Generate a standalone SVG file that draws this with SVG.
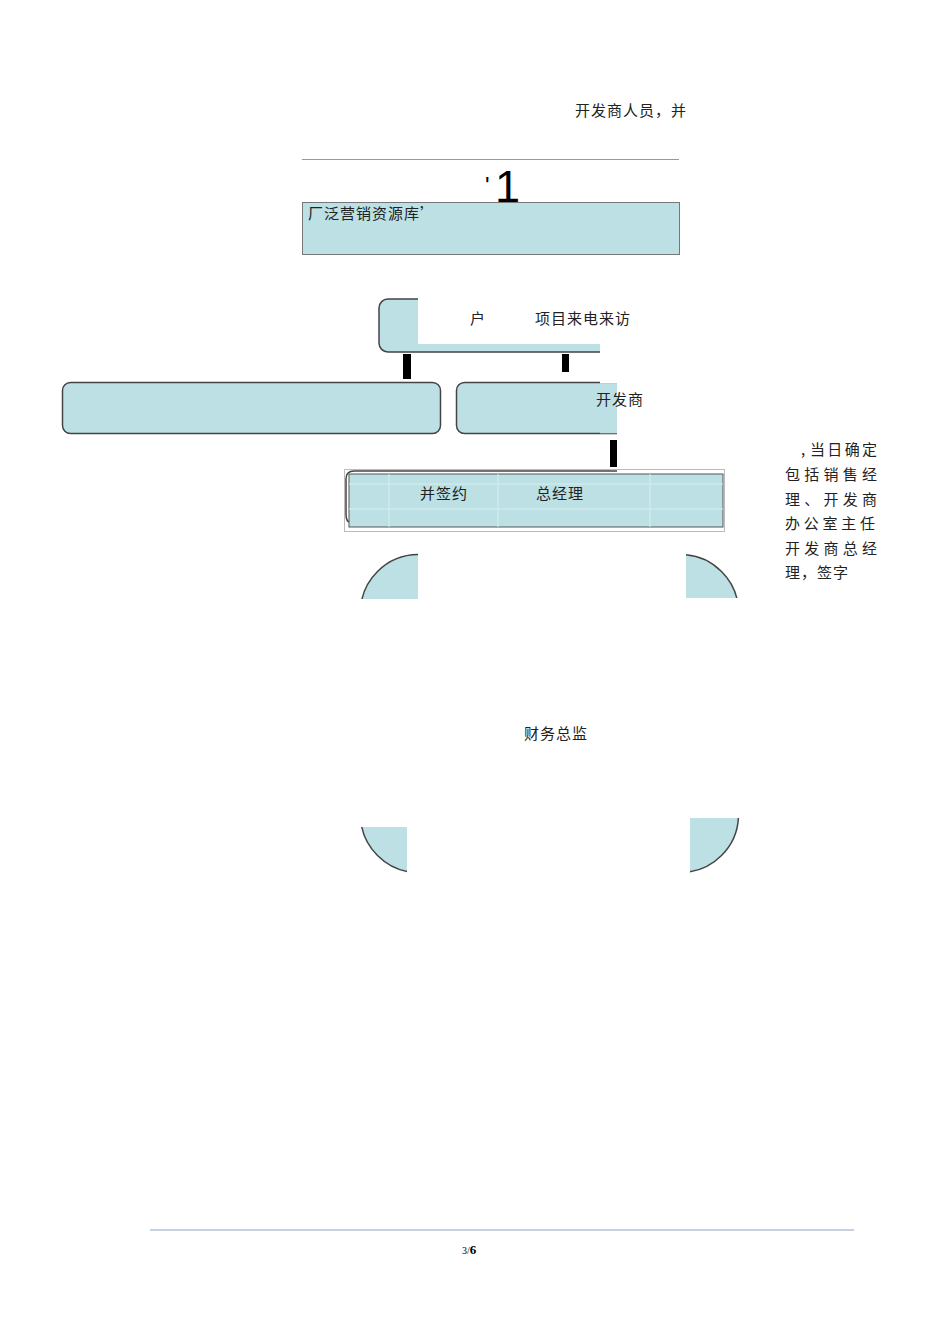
<svg xmlns="http://www.w3.org/2000/svg" width="950" height="1344" viewBox="0 0 950 1344">
<style>
.t{font-family:"Noto Sans CJK SC","Liberation Sans",sans-serif;font-size:15px;fill:#222;letter-spacing:1px}
.s{letter-spacing:0}
.box{fill:#BCE0E4;stroke:#444;stroke-width:1.5}
.bar{fill:#000}
</style>
<defs>
<clipPath id="corners">
<rect x="355" y="548" width="63" height="51"/>
<rect x="686" y="548" width="60" height="50"/>
<rect x="355" y="827" width="52" height="52"/>
<rect x="690" y="818" width="56" height="61"/>
</clipPath>
<clipPath id="c2"><rect x="370" y="290" width="230" height="70"/></clipPath>
<clipPath id="c4"><rect x="450" y="375" width="167" height="65"/></clipPath>
</defs>
<rect width="950" height="1344" fill="#fff"/>
<text class="t" x="575" y="116">开发商人员，并</text>
<line x1="302" y1="159.5" x2="679" y2="159.5" stroke="#999" stroke-width="1.2"/>
<text x="485" y="194" font-family="Liberation Sans,sans-serif" font-size="24" fill="#000">'</text>
<text x="495" y="202" font-family="Liberation Sans,sans-serif" font-size="45" fill="#000">1</text>
<g id="n1">
<rect x="302.5" y="202.5" width="377" height="52" fill="#BCE0E4" stroke="#777" stroke-width="1"/>
<text class="t" x="308" y="219">厂泛营销资源库’</text>
</g>
<g id="n2">
<g clip-path="url(#c2)">
<rect class="box" x="379" y="299" width="260" height="53" rx="9"/>
</g>
<rect x="418" y="290" width="190" height="54" fill="#fff"/>
<text class="t" x="470" y="324">户</text>
<text class="t" x="535" y="324">项目来电来访</text>
</g>
<g id="connectors">
<rect class="bar" x="403" y="354" width="8" height="25"/>
<rect class="bar" x="562" y="354" width="7" height="18"/>
<rect class="bar" x="610" y="440" width="7" height="27"/>
</g>
<g id="n3">
<rect class="box" x="62.5" y="382.5" width="378" height="51" rx="8"/>
</g>
<g id="n4">
<g clip-path="url(#c4)">
<rect class="box" x="456.5" y="382.5" width="200" height="51" rx="8"/>
</g>
<rect x="600" y="375" width="17" height="8" fill="#fff"/>
<rect x="600" y="383.3" width="17" height="50" fill="#BCE0E4"/>
<text class="t" x="596" y="405">开发商</text>
</g>
<g id="n5">
<rect x="344.5" y="469.5" width="380" height="62" fill="none" stroke="#bbb" stroke-width="1"/>
<path d="M617 471 H354 Q346 471 346 479 V514 Q346 522 350 522" fill="none" stroke="#444" stroke-width="1.5"/>
<rect x="349" y="474" width="374" height="53" fill="#BCE0E4" stroke="#555" stroke-width="1"/>
<g stroke="#d8eef0" stroke-width="1">
<line x1="389" y1="474" x2="389" y2="527"/>
<line x1="498" y1="474" x2="498" y2="527"/>
<line x1="650" y1="474" x2="650" y2="527"/>
<line x1="349" y1="484" x2="723" y2="484"/>
<line x1="349" y1="509" x2="723" y2="509"/>
</g>
<text class="t" x="420" y="499">并签约</text>
<text class="t" x="536" y="499">总经理</text>
</g>
<g id="n6">
<rect class="box" x="360.5" y="554.5" width="378" height="318" rx="58" clip-path="url(#corners)"/>
<text class="t" x="524" y="739">财务总监</text>
</g>
<g id="side">
<text class="t s" x="801" y="455">,</text>
<text class="t s" x="810" y="455" textLength="67" lengthAdjust="spacing">当日确定</text>
<text class="t s" x="785" y="480" textLength="92" lengthAdjust="spacing">包括销售经</text>
<text class="t s" x="785" y="505" textLength="92" lengthAdjust="spacing">理、开发商</text>
<text class="t s" x="785" y="529" textLength="90" lengthAdjust="spacing">办公室主任</text>
<text class="t s" x="785" y="554" textLength="92" lengthAdjust="spacing">开发商总经</text>
<text class="t" x="785" y="578">理，签字</text>
</g>
<line x1="150" y1="1230" x2="854" y2="1230" stroke="#8FA6C2" stroke-width="1.2"/>
<text x="462" y="1254" font-family="Liberation Serif,serif" font-size="10" fill="#000">3/<tspan font-size="13" font-weight="bold">6</tspan></text>
</svg>
